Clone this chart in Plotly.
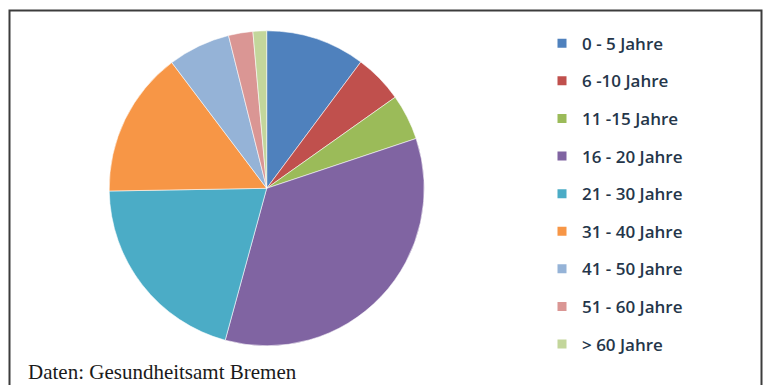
import plotly.graph_objects as go

labels = ["0 - 5 Jahre", "6 -10 Jahre", "11 -15 Jahre", "16 - 20 Jahre", "21 - 30 Jahre",
          "31 - 40 Jahre", "41 - 50 Jahre", "51 - 60 Jahre", "> 60 Jahre"]
values = [10.2, 5.0, 4.7, 34.4, 20.5, 15.0, 6.4, 2.5, 1.4]
colors = ["#4F81BD", "#C0504D", "#9BBB59", "#8064A2", "#4BACC6",
          "#F79646", "#95B3D7", "#DA9694", "#C3D69B"]
caption = "Daten: Gesundheitsamt Bremen"

W, H = 765, 385
cx, cy, r = 266.7, 188.3, 157.5

fig = go.Figure()
fig.add_trace(go.Pie(
    labels=labels, values=values, sort=False, direction="clockwise", rotation=0,
    marker=dict(colors=colors, line=dict(color="rgba(255,255,255,0.55)", width=1)),
    textinfo="none", hoverinfo="label+percent", showlegend=False,
    domain=dict(x=[(cx - r) / W, (cx + r) / W], y=[(H - cy - r) / H, (H - cy + r) / H]),
))
for i, (lab, col) in enumerate(zip(labels, colors)):
    fig.add_trace(go.Scatter(
        x=[None], y=[None], mode="markers", name=lab, legendgroup=f"g{i}",
        marker=dict(symbol="square", size=9, color=col), showlegend=True,
    ))

fig.add_shape(type="rect", xref="paper", yref="paper",
              x0=9.5 / W, x1=761.5 / W, y0=-0.1, y1=(H - 10.5) / H,
              line=dict(color="#3c3c3c", width=2), fillcolor="rgba(0,0,0,0)", layer="above")
fig.add_annotation(text=caption, xref="paper", yref="paper", x=26 / W, y=(H - 372) / H,
                   xanchor="left", yanchor="middle", showarrow=False,
                   font=dict(family="Liberation Serif", size=21, color="#1a1a1a"))

fig.update_layout(
    width=W, height=H, margin=dict(l=0, r=0, t=0, b=0),
    paper_bgcolor="white", plot_bgcolor="white",
    xaxis=dict(visible=False), yaxis=dict(visible=False),
    legend=dict(x=542 / W, y=(H - 25.7) / H, xanchor="left", yanchor="top",
                font=dict(family="Open Sans", size=17, color="#25364a", weight=600),
                tracegroupgap=12.5, bgcolor="rgba(0,0,0,0)", itemclick=False),
)
fig.write_html("out.html")
